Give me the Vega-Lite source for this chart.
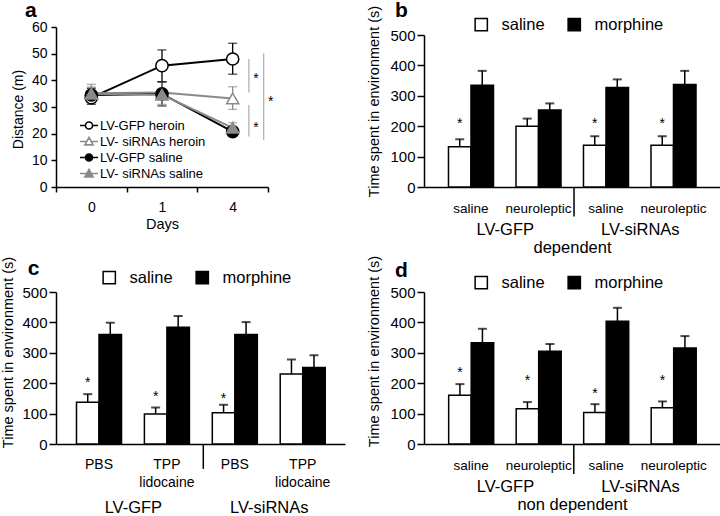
{
  "$schema": "https://vega.github.io/schema/vega-lite/v6.json",
  "background": "white",
  "padding": {"left": 0, "top": 0, "right": 0, "bottom": 0},
  "config": {
    "font": "Liberation Sans",
    "view": {"stroke": null},
    "axis": {"domainColor": "black", "tickColor": "black", "labelColor": "black", "titleColor": "black", "domainWidth": 1.5, "tickWidth": 1.5, "grid": false, "titleFontWeight": "normal", "labelFont": "Liberation Sans", "titleFont": "Liberation Sans", "labelOverlap": false},
    "axisY": {"tickCount": 7},
    "legend": {"labelColor": "black", "labelFont": "Liberation Sans"}
  },
  "datasets": {
    "a_series": [
      {"series": "LV-GFP heroin", "day": "0", "mean": 33.5, "lo": 31, "hi": 36},
      {"series": "LV-GFP heroin", "day": "1", "mean": 45.5, "lo": 39.5, "hi": 51.4},
      {"series": "LV-GFP heroin", "day": "4", "mean": 48, "lo": 42.3, "hi": 53.9},
      {"series": "LV- siRNAs heroin", "day": "0", "mean": 35.2, "lo": 32.5, "hi": 37.5},
      {"series": "LV- siRNAs heroin", "day": "1", "mean": 35.4, "lo": 31, "hi": 39.5},
      {"series": "LV- siRNAs heroin", "day": "4", "mean": 33.2, "lo": 29.1, "hi": 37.6},
      {"series": "LV-GFP saline", "day": "0", "mean": 34.5, "lo": 32, "hi": 37},
      {"series": "LV-GFP saline", "day": "1", "mean": 34.9, "lo": 30.4, "hi": 39.4},
      {"series": "LV-GFP saline", "day": "4", "mean": 20.8, "lo": 19.5, "hi": 22.3},
      {"series": "LV- siRNAs saline", "day": "0", "mean": 35, "lo": 31.5, "hi": 38.5},
      {"series": "LV- siRNAs saline", "day": "1", "mean": 34.6, "lo": 30.4, "hi": 39.5},
      {"series": "LV- siRNAs saline", "day": "4", "mean": 22.2, "lo": 20.5, "hi": 24.1}
    ],
    "a_brackets_inner": [{"day": "4", "y1": 48, "y2": 35.4}, {"day": "4", "y1": 30.7, "y2": 18.9}],
    "a_bracket_outer": [{"day": "4", "y1": 50.1, "y2": 17.6}],
    "a_stars_inner": [{"day": "4", "y": 42}, {"day": "4", "y": 23.6}],
    "a_star_outer": [{"day": "4", "y": 33.4}],
    "b_bars": [
      {"group": "LV-GFP|saline", "vector": "LV-GFP", "treatment": "saline", "mean": 132, "hi": 157, "star": 222},
      {"group": "LV-GFP|saline", "vector": "LV-GFP", "treatment": "morphine", "mean": 335, "hi": 382},
      {"group": "LV-GFP|neuroleptic", "vector": "LV-GFP", "treatment": "saline", "mean": 200, "hi": 225},
      {"group": "LV-GFP|neuroleptic", "vector": "LV-GFP", "treatment": "morphine", "mean": 253, "hi": 275},
      {"group": "LV-siRNAs|saline", "vector": "LV-siRNAs", "treatment": "saline", "mean": 137, "hi": 167, "star": 222},
      {"group": "LV-siRNAs|saline", "vector": "LV-siRNAs", "treatment": "morphine", "mean": 327, "hi": 354},
      {"group": "LV-siRNAs|neuroleptic", "vector": "LV-siRNAs", "treatment": "saline", "mean": 137, "hi": 167, "star": 222},
      {"group": "LV-siRNAs|neuroleptic", "vector": "LV-siRNAs", "treatment": "morphine", "mean": 337, "hi": 382}
    ],
    "c_bars": [
      {"group": "LV-GFP|PBS", "vector": "LV-GFP", "treatment": "saline", "mean": 137, "hi": 164, "star": 213},
      {"group": "LV-GFP|PBS", "vector": "LV-GFP", "treatment": "morphine", "mean": 360, "hi": 399},
      {"group": "LV-GFP|TPP lidocaine", "vector": "LV-GFP", "treatment": "saline", "mean": 99, "hi": 120, "star": 167},
      {"group": "LV-GFP|TPP lidocaine", "vector": "LV-GFP", "treatment": "morphine", "mean": 384, "hi": 421},
      {"group": "LV-siRNAs|PBS", "vector": "LV-siRNAs", "treatment": "saline", "mean": 103, "hi": 129, "star": 162},
      {"group": "LV-siRNAs|PBS", "vector": "LV-siRNAs", "treatment": "morphine", "mean": 360, "hi": 401},
      {"group": "LV-siRNAs|TPP lidocaine", "vector": "LV-siRNAs", "treatment": "saline", "mean": 230, "hi": 278},
      {"group": "LV-siRNAs|TPP lidocaine", "vector": "LV-siRNAs", "treatment": "morphine", "mean": 252, "hi": 292}
    ],
    "d_bars": [
      {"group": "LV-GFP|saline", "vector": "LV-GFP", "treatment": "saline", "mean": 160, "hi": 197, "star": 248},
      {"group": "LV-GFP|saline", "vector": "LV-GFP", "treatment": "morphine", "mean": 333, "hi": 379},
      {"group": "LV-GFP|neuroleptic", "vector": "LV-GFP", "treatment": "saline", "mean": 116, "hi": 138, "star": 220},
      {"group": "LV-GFP|neuroleptic", "vector": "LV-GFP", "treatment": "morphine", "mean": 305, "hi": 329},
      {"group": "LV-siRNAs|saline", "vector": "LV-siRNAs", "treatment": "saline", "mean": 104, "hi": 131, "star": 176},
      {"group": "LV-siRNAs|saline", "vector": "LV-siRNAs", "treatment": "morphine", "mean": 404, "hi": 448},
      {"group": "LV-siRNAs|neuroleptic", "vector": "LV-siRNAs", "treatment": "saline", "mean": 119, "hi": 140, "star": 220},
      {"group": "LV-siRNAs|neuroleptic", "vector": "LV-siRNAs", "treatment": "morphine", "mean": 316, "hi": 355}
    ]
  },
  "columns": 2,
  "align": "each",
  "bounds": "flush",
  "spacing": {"row": 97, "column": 79},
  "resolve": {
    "scale": {"fill": "independent", "stroke": "independent", "color": "independent", "shape": "independent", "x": "independent", "y": "independent"},
    "legend": {"fill": "independent", "stroke": "independent", "color": "independent", "shape": "independent"}
  },
  "concat": [
    {
      "width": 212,
      "height": 160,
      "resolve": {"scale": {"shape": "independent", "fill": "independent", "stroke": "independent"}},
      "layer": [
        {
          "data": {"name": "a_series"},
          "mark": {"type": "line", "strokeWidth": 2},
          "encoding": {
            "x": {"field": "day", "type": "ordinal", "scale": {"domain": ["0", "1", "4"], "paddingInner": 0, "paddingOuter": 0},
              "axis": {"orient": "bottom", "tickBand": "extent", "tickSize": 5, "labelPadding": 8, "labelFontSize": 14, "labelAngle": 0, "title": "Days", "titleFontSize": 14.5, "titlePadding": 3}},
            "y": {"field": "mean", "type": "quantitative", "scale": {"domain": [0, 60], "nice": false},
              "axis": {"values": [0, 10, 20, 30, 40, 50, 60], "tickCount": 7, "labelOverlap": false, "tickSize": 5, "labelPadding": 4, "labelFontSize": 14, "title": "Distance (m)", "titleFontSize": 14, "titlePadding": 6, "titleY": 82}},
            "stroke": {"field": "series", "type": "nominal", "scale": {"domain": ["LV-GFP heroin", "LV- siRNAs heroin", "LV-GFP saline", "LV- siRNAs saline"], "range": ["black", "#8a8a8a", "black", "#8a8a8a"]}, "legend": null}
          }
        },
        {
          "data": {"name": "a_series"},
          "mark": {"type": "rule", "strokeWidth": 1.3},
          "encoding": {
            "x": {"field": "day", "type": "ordinal"},
            "y": {"field": "lo", "type": "quantitative"},
            "y2": {"field": "hi"},
            "stroke": {"field": "series", "type": "nominal", "scale": {"domain": ["LV-GFP heroin", "LV- siRNAs heroin", "LV-GFP saline", "LV- siRNAs saline"], "range": ["black", "#8a8a8a", "black", "#8a8a8a"]}, "legend": null}
          }
        },
        {
          "data": {"name": "a_series"},
          "mark": {"type": "tick", "orient": "horizontal", "size": 9, "thickness": 1.3},
          "encoding": {
            "x": {"field": "day", "type": "ordinal"},
            "y": {"field": "hi", "type": "quantitative"},
            "color": {"field": "series", "type": "nominal", "scale": {"domain": ["LV-GFP heroin", "LV- siRNAs heroin", "LV-GFP saline", "LV- siRNAs saline"], "range": ["black", "#8a8a8a", "black", "#8a8a8a"]}, "legend": null}
          }
        },
        {
          "data": {"name": "a_series"},
          "mark": {"type": "tick", "orient": "horizontal", "size": 9, "thickness": 1.3},
          "encoding": {
            "x": {"field": "day", "type": "ordinal"},
            "y": {"field": "lo", "type": "quantitative"},
            "color": {"field": "series", "type": "nominal", "legend": null}
          }
        },
        {
          "data": {"name": "a_series"},
          "mark": {"type": "point", "filled": true, "size": 150, "strokeWidth": 1.5, "opacity": 1},
          "encoding": {
            "x": {"field": "day", "type": "ordinal"},
            "y": {"field": "mean", "type": "quantitative"},
            "shape": {"field": "series", "type": "nominal", "scale": {"domain": ["LV-GFP heroin", "LV- siRNAs heroin", "LV-GFP saline", "LV- siRNAs saline"], "range": ["circle", "triangle-up", "circle", "triangle-up"]}, "legend": null},
            "fill": {"field": "series", "type": "nominal", "scale": {"domain": ["LV-GFP heroin", "LV- siRNAs heroin", "LV-GFP saline", "LV- siRNAs saline"], "range": ["white", "white", "black", "#8a8a8a"]}, "legend": null},
            "stroke": {"field": "series", "type": "nominal", "scale": {"domain": ["LV-GFP heroin", "LV- siRNAs heroin", "LV-GFP saline", "LV- siRNAs saline"], "range": ["black", "#8a8a8a", "black", "#8a8a8a"]}, "legend": null}
          }
        },
        {
          "data": {"name": "a_series"},
          "transform": [{"filter": "false"}],
          "mark": {"type": "point", "filled": true, "strokeWidth": 1.6, "opacity": 1},
          "encoding": {
            "x": {"field": "day", "type": "ordinal"},
            "y": {"field": "mean", "type": "quantitative"},
            "shape": {"field": "series", "type": "nominal",
              "scale": {"domain": ["LV-GFP heroin", "LV- siRNAs heroin", "LV-GFP saline", "LV- siRNAs saline"],
                "range": ["M-1.2,0L-0.47,0M0.47,0L1.2,0M0.47,0A0.47,0.47,0,1,1,-0.47,0A0.47,0.47,0,1,1,0.47,0Z", "M-1.2,0L-0.3,0M0.3,0L1.2,0M0,-0.55L0.55,0.45L-0.55,0.45Z", "M-1.2,0L-0.47,0M0.47,0L1.2,0M0.47,0A0.47,0.47,0,1,1,-0.47,0A0.47,0.47,0,1,1,0.47,0Z", "M-1.2,0L-0.3,0M0.3,0L1.2,0M0,-0.55L0.55,0.45L-0.55,0.45Z"]},
              "legend": {"title": null, "orient": "none", "legendX": 24.5, "legendY": 90, "symbolSize": 225, "symbolStrokeWidth": 1.6, "labelFontSize": 13, "labelOffset": 2.5, "rowPadding": -0.9, "labelLimit": 300}},
            "fill": {"field": "series", "type": "nominal", "scale": {"domain": ["LV-GFP heroin", "LV- siRNAs heroin", "LV-GFP saline", "LV- siRNAs saline"], "range": ["white", "white", "black", "#8a8a8a"]},
              "legend": {"title": null, "orient": "none", "legendX": 24.5, "legendY": 90, "symbolSize": 225, "symbolStrokeWidth": 1.6, "labelFontSize": 13, "labelOffset": 2.5, "rowPadding": -0.9, "labelLimit": 300}},
            "stroke": {"field": "series", "type": "nominal", "scale": {"domain": ["LV-GFP heroin", "LV- siRNAs heroin", "LV-GFP saline", "LV- siRNAs saline"], "range": ["black", "#8a8a8a", "black", "#8a8a8a"]},
              "legend": {"title": null, "orient": "none", "legendX": 24.5, "legendY": 90, "symbolSize": 225, "symbolStrokeWidth": 1.6, "labelFontSize": 13, "labelOffset": 2.5, "rowPadding": -0.9, "labelLimit": 300}}
          }
        },
        {
          "data": {"name": "a_brackets_inner"},
          "mark": {"type": "rule", "strokeWidth": 1, "color": "#9a9a9a"},
          "encoding": {
            "x": {"field": "day", "type": "ordinal", "bandPosition": 0.73},
            "y": {"field": "y1", "type": "quantitative"},
            "y2": {"field": "y2"}
          }
        },
        {
          "data": {"name": "a_bracket_outer"},
          "mark": {"type": "rule", "strokeWidth": 1, "color": "#9a9a9a"},
          "encoding": {
            "x": {"field": "day", "type": "ordinal", "bandPosition": 0.94},
            "y": {"field": "y1", "type": "quantitative"},
            "y2": {"field": "y2"}
          }
        },
        {
          "data": {"name": "a_stars_inner"},
          "mark": {"type": "text", "text": "*", "fontSize": 14, "dy": 4, "fill": "black"},
          "encoding": {
            "x": {"field": "day", "type": "ordinal", "bandPosition": 0.83},
            "y": {"field": "y", "type": "quantitative"}
          }
        },
        {
          "data": {"name": "a_star_outer"},
          "mark": {"type": "text", "text": "*", "fontSize": 14, "dy": 4, "fill": "black"},
          "encoding": {
            "x": {"field": "day", "type": "ordinal", "bandPosition": 1.04},
            "y": {"field": "y", "type": "quantitative"}
          }
        },
        {
          "data": {"values": [{"panel": "a"}]},
          "mark": {"type": "text", "fontSize": 21, "fontWeight": "bold", "align": "left", "baseline": "alphabetic", "fill": "black"},
          "encoding": {
            "x": {"datum": "0", "type": "ordinal", "bandPosition": -0.44},
            "y": {"datum": 63.75, "type": "quantitative"},
            "text": {"field": "panel"}
          }
        }
      ]
    },
    {
      "width": 296,
      "height": 160,
      "resolve": {"scale": {"x": "independent"}},
      "layer": [
        {
          "data": {"name": "b_bars"},
          "layer": [
            {
              "mark": {"type": "bar", "stroke": "black", "strokeWidth": 1.5},
              "encoding": {
                "x": {"field": "group", "type": "nominal", "scale": {"domain": ["LV-GFP|saline", "LV-GFP|neuroleptic", "LV-siRNAs|saline", "LV-siRNAs|neuroleptic"], "paddingInner": 0.333, "paddingOuter": 0.359, "align": 0.505},
                  "axis": {"orient": "bottom", "title": null, "ticks": false, "labelPadding": 14, "labelFontSize": 13.5, "labelAngle": 0, "labelOverlap": false, "labelLineHeight": 18, "labelExpr": "split(split(datum.label,'|')[1],' ')"}},
                "xOffset": {"field": "treatment", "type": "nominal", "scale": {"domain": ["saline", "morphine"], "paddingInner": 0, "paddingOuter": 0}},
                "y": {"field": "mean", "type": "quantitative", "scale": {"domain": [0, 500], "range": [160, 8], "nice": false},
                  "axis": {"values": [0, 100, 200, 300, 400, 500], "tickCount": 7, "labelOverlap": false, "tickSize": 7, "labelPadding": 2, "labelFontSize": 15, "title": "Time spent in environment (s)", "titleFontSize": 14.5, "titlePadding": 8, "titleY": 74}},
                "fill": {"field": "treatment", "type": "nominal", "scale": {"domain": ["saline", "morphine"], "range": ["white", "black"]},
                  "legend": {"title": null, "orient": "none", "legendX": 49, "legendY": -11, "direction": "horizontal", "symbolType": "square", "symbolSize": 150, "symbolStrokeColor": "black", "symbolStrokeWidth": 1.5, "labelFontSize": 16.5, "labelOffset": 12, "columnPadding": 20}}
              }
            },
            {
              "mark": {"type": "rule", "strokeWidth": 1.5, "color": "black"},
              "encoding": {
                "x": {"field": "group", "type": "nominal"},
                "xOffset": {"field": "treatment", "type": "nominal"},
                "y": {"field": "mean", "type": "quantitative"},
                "y2": {"field": "hi"}
              }
            },
            {
              "mark": {"type": "tick", "orient": "horizontal", "size": 9, "thickness": 2, "color": "black"},
              "encoding": {
                "x": {"field": "group", "type": "nominal"},
                "xOffset": {"field": "treatment", "type": "nominal"},
                "y": {"field": "hi", "type": "quantitative"}
              }
            },
            {
              "transform": [{"filter": "isValid(datum.star)"}],
              "mark": {"type": "text", "text": "*", "fontSize": 14, "dy": 4, "fill": "black"},
              "encoding": {
                "x": {"field": "group", "type": "nominal"},
                "xOffset": {"field": "treatment", "type": "nominal"},
                "y": {"field": "star", "type": "quantitative"}
              }
            },
            {
              "data": {"values": [{}]},
              "mark": {"type": "rule", "strokeWidth": 1.5, "color": "black"},
              "encoding": {
                "x": {"datum": "LV-siRNAs|saline", "type": "nominal", "bandPosition": -0.21},
                "y": {"datum": 0, "type": "quantitative"},
                "y2": {"datum": -97}
              }
            },
            {
              "data": {"values": [{"panel": "b"}]},
              "mark": {"type": "text", "fontSize": 21, "fontWeight": "bold", "align": "left", "baseline": "alphabetic", "fill": "black"},
              "encoding": {
                "x": {"datum": "LV-GFP|saline", "type": "nominal", "bandPosition": -1.19},
                "y": {"datum": 559, "type": "quantitative"},
                "text": {"field": "panel"}
              }
            }
          ]
        },
        {
          "data": {"name": "b_bars"},
          "mark": {"type": "rule", "strokeOpacity": 0},
          "encoding": {
            "x": {"field": "vector", "type": "nominal", "scale": {"type": "point", "domain": ["LV-GFP", "LV-siRNAs"], "padding": 0.596, "align": 0.5016},
              "axis": {"orient": "bottom", "offset": 34, "domain": false, "ticks": false, "labelPadding": 0, "labelFontSize": 16.5, "labelAngle": 0, "labelOverlap": false, "title": "dependent", "titleFontSize": 16.5, "titlePadding": 2}}
          }
        }
      ]
    },
    {
      "width": 289,
      "height": 160,
      "resolve": {"scale": {"x": "independent"}},
      "layer": [
        {
          "data": {"name": "c_bars"},
          "layer": [
            {
              "mark": {"type": "bar", "stroke": "black", "strokeWidth": 1.5},
              "encoding": {
                "x": {"field": "group", "type": "nominal", "scale": {"domain": ["LV-GFP|PBS", "LV-GFP|TPP lidocaine", "LV-siRNAs|PBS", "LV-siRNAs|TPP lidocaine"], "paddingInner": 0.337, "paddingOuter": 0.2965, "align": 0.509},
                  "axis": {"orient": "bottom", "title": null, "ticks": false, "labelPadding": 13, "labelFontSize": 14, "labelAngle": 0, "labelOverlap": false, "labelLineHeight": 18.4, "labelExpr": "split(split(datum.label,'|')[1],' ')"}},
                "xOffset": {"field": "treatment", "type": "nominal", "scale": {"domain": ["saline", "morphine"], "paddingInner": 0, "paddingOuter": 0}},
                "y": {"field": "mean", "type": "quantitative", "scale": {"domain": [0, 500], "range": [160, 8], "nice": false},
                  "axis": {"values": [0, 100, 200, 300, 400, 500], "tickCount": 7, "labelOverlap": false, "tickSize": 7, "labelPadding": 2, "labelFontSize": 15, "title": "Time spent in environment (s)", "titleFontSize": 14.5, "titlePadding": 6, "titleY": 68}},
                "fill": {"field": "treatment", "type": "nominal", "scale": {"domain": ["saline", "morphine"], "range": ["white", "black"]},
                  "legend": {"title": null, "orient": "none", "legendX": 45, "legendY": -15, "direction": "horizontal", "symbolType": "square", "symbolSize": 150, "symbolStrokeColor": "black", "symbolStrokeWidth": 1.5, "labelFontSize": 16.5, "labelOffset": 12, "columnPadding": 20}}
              }
            },
            {
              "mark": {"type": "rule", "strokeWidth": 1.5, "color": "black"},
              "encoding": {
                "x": {"field": "group", "type": "nominal"},
                "xOffset": {"field": "treatment", "type": "nominal"},
                "y": {"field": "mean", "type": "quantitative"},
                "y2": {"field": "hi"}
              }
            },
            {
              "mark": {"type": "tick", "orient": "horizontal", "size": 9, "thickness": 2, "color": "black"},
              "encoding": {
                "x": {"field": "group", "type": "nominal"},
                "xOffset": {"field": "treatment", "type": "nominal"},
                "y": {"field": "hi", "type": "quantitative"}
              }
            },
            {
              "transform": [{"filter": "isValid(datum.star)"}],
              "mark": {"type": "text", "text": "*", "fontSize": 14, "dy": 4, "fill": "black"},
              "encoding": {
                "x": {"field": "group", "type": "nominal"},
                "xOffset": {"field": "treatment", "type": "nominal"},
                "y": {"field": "star", "type": "quantitative"}
              }
            },
            {
              "data": {"values": [{}]},
              "mark": {"type": "rule", "strokeWidth": 1.5, "color": "black"},
              "encoding": {
                "x": {"datum": "LV-siRNAs|PBS", "type": "nominal", "bandPosition": -0.2},
                "y": {"datum": 0, "type": "quantitative"},
                "y2": {"datum": -82}
              }
            },
            {
              "data": {"values": [{"panel": "c"}]},
              "mark": {"type": "text", "fontSize": 21, "fontWeight": "bold", "align": "left", "baseline": "alphabetic", "fill": "black"},
              "encoding": {
                "x": {"datum": "LV-GFP|PBS", "type": "nominal", "bandPosition": -1.08},
                "y": {"datum": 556, "type": "quantitative"},
                "text": {"field": "panel"}
              }
            }
          ]
        },
        {
          "data": {"name": "c_bars"},
          "mark": {"type": "rule", "strokeOpacity": 0},
          "encoding": {
            "x": {"field": "vector", "type": "nominal", "scale": {"type": "point", "domain": ["LV-GFP", "LV-siRNAs"], "padding": 0.564, "align": 0.502},
              "axis": {"orient": "bottom", "offset": 55, "domain": false, "ticks": false, "labelPadding": 0, "labelFontSize": 16.5, "labelAngle": 0, "labelOverlap": false, "title": null}}
          }
        }
      ]
    },
    {
      "width": 296,
      "height": 160,
      "resolve": {"scale": {"x": "independent"}},
      "layer": [
        {
          "data": {"name": "d_bars"},
          "layer": [
            {
              "mark": {"type": "bar", "stroke": "black", "strokeWidth": 1.5},
              "encoding": {
                "x": {"field": "group", "type": "nominal", "scale": {"domain": ["LV-GFP|saline", "LV-GFP|neuroleptic", "LV-siRNAs|saline", "LV-siRNAs|neuroleptic"], "paddingInner": 0.333, "paddingOuter": 0.359, "align": 0.509},
                  "axis": {"orient": "bottom", "title": null, "ticks": false, "labelPadding": 14, "labelFontSize": 13.5, "labelAngle": 0, "labelOverlap": false, "labelLineHeight": 18, "labelExpr": "split(split(datum.label,'|')[1],' ')"}},
                "xOffset": {"field": "treatment", "type": "nominal", "scale": {"domain": ["saline", "morphine"], "paddingInner": 0, "paddingOuter": 0}},
                "y": {"field": "mean", "type": "quantitative", "scale": {"domain": [0, 500], "range": [160, 8], "nice": false},
                  "axis": {"values": [0, 100, 200, 300, 400, 500], "tickCount": 7, "labelOverlap": false, "tickSize": 7, "labelPadding": 2, "labelFontSize": 15, "title": "Time spent in environment (s)", "titleFontSize": 14.5, "titlePadding": 8, "titleY": 67}},
                "fill": {"field": "treatment", "type": "nominal", "scale": {"domain": ["saline", "morphine"], "range": ["white", "black"]},
                  "legend": {"title": null, "orient": "none", "legendX": 49, "legendY": -10, "direction": "horizontal", "symbolType": "square", "symbolSize": 150, "symbolStrokeColor": "black", "symbolStrokeWidth": 1.5, "labelFontSize": 16.5, "labelOffset": 12, "columnPadding": 20}}
              }
            },
            {
              "mark": {"type": "rule", "strokeWidth": 1.5, "color": "black"},
              "encoding": {
                "x": {"field": "group", "type": "nominal"},
                "xOffset": {"field": "treatment", "type": "nominal"},
                "y": {"field": "mean", "type": "quantitative"},
                "y2": {"field": "hi"}
              }
            },
            {
              "mark": {"type": "tick", "orient": "horizontal", "size": 9, "thickness": 2, "color": "black"},
              "encoding": {
                "x": {"field": "group", "type": "nominal"},
                "xOffset": {"field": "treatment", "type": "nominal"},
                "y": {"field": "hi", "type": "quantitative"}
              }
            },
            {
              "transform": [{"filter": "isValid(datum.star)"}],
              "mark": {"type": "text", "text": "*", "fontSize": 14, "dy": 4, "fill": "black"},
              "encoding": {
                "x": {"field": "group", "type": "nominal"},
                "xOffset": {"field": "treatment", "type": "nominal"},
                "y": {"field": "star", "type": "quantitative"}
              }
            },
            {
              "data": {"values": [{}]},
              "mark": {"type": "rule", "strokeWidth": 1.5, "color": "black"},
              "encoding": {
                "x": {"datum": "LV-siRNAs|saline", "type": "nominal", "bandPosition": -0.22},
                "y": {"datum": 0, "type": "quantitative"},
                "y2": {"datum": -99}
              }
            },
            {
              "data": {"values": [{"panel": "d"}]},
              "mark": {"type": "text", "fontSize": 21, "fontWeight": "bold", "align": "left", "baseline": "alphabetic", "fill": "black"},
              "encoding": {
                "x": {"datum": "LV-GFP|saline", "type": "nominal", "bandPosition": -1.19},
                "y": {"datum": 550, "type": "quantitative"},
                "text": {"field": "panel"}
              }
            }
          ]
        },
        {
          "data": {"name": "d_bars"},
          "mark": {"type": "rule", "strokeOpacity": 0},
          "encoding": {
            "x": {"field": "vector", "type": "nominal", "scale": {"type": "point", "domain": ["LV-GFP", "LV-siRNAs"], "padding": 0.596, "align": 0.503},
              "axis": {"orient": "bottom", "offset": 34, "domain": false, "ticks": false, "labelPadding": 0, "labelFontSize": 16.5, "labelAngle": 0, "labelOverlap": false, "title": "non dependent", "titleFontSize": 16.5, "titlePadding": 2}}
          }
        }
      ]
    }
  ]
}
